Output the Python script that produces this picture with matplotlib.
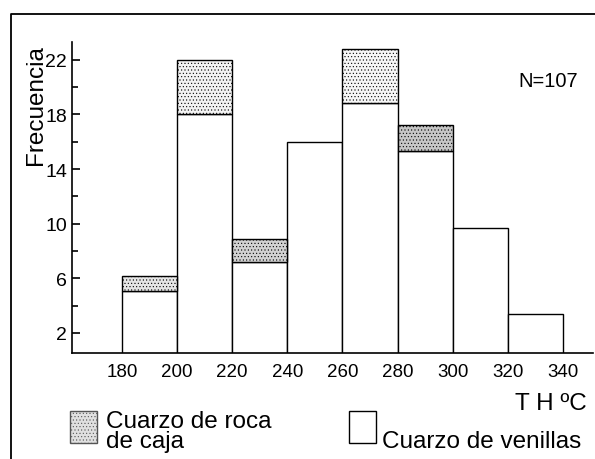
import numpy as np
import matplotlib
matplotlib.use('Agg')
import matplotlib.pyplot as plt
from matplotlib.patches import Rectangle
from matplotlib.lines import Line2D

# class edges (lower limit of each 20 degree class) and frequencies
bins = [180, 200, 220, 240, 260, 280, 300, 320]
venillas = [5.1, 18.0, 7.2, 16.0, 18.8, 15.3, 9.7, 3.4]
roca = [1.1, 4.0, 1.7, 0.0, 4.0, 1.9, 0.0, 0.0]

xticks = [180, 200, 220, 240, 260, 280, 300, 320, 340]
yticks = [2, 6, 10, 14, 18, 22]
yminor = [4, 8, 12, 16, 20]

# the scanned stipple is uneven: light on some bars, darker on others
stipple = ['#e6e6e6', '#f3f3f3', '#d2d2d2', '#ffffff', '#f6f6f6', '#c6c6c6', '#ffffff', '#ffffff']

W, H = 595, 460
plt.rcParams['font.family'] = ['Liberation Sans', 'DejaVu Sans']
plt.rcParams['hatch.color'] = '#a8a8a8'
plt.rcParams['hatch.linewidth'] = 0.4

fig = plt.figure(figsize=(W / 100, H / 100), dpi=100)
# axes box in pixels: left 72, right 593, top 43, bottom 354
ax = fig.add_axes([72 / W, 1 - 354 / H, (593 - 72) / W, (354 - 43) / H])

ax.bar(bins, venillas, width=20, align='edge', facecolor='white',
       edgecolor='black', linewidth=1.0, zorder=2)
# roca de caja sits on top of the venillas bars
for b, v, r, c in zip(bins, venillas, roca, stipple):
    if r > 0:
        ax.bar(b, r, width=20, bottom=v, align='edge', facecolor=c,
               edgecolor='black', linewidth=1.0, hatch='.....', zorder=2)

ax.set_xlim(161.9, 350.9)
ax.set_ylim(0.53, 23.3)

for s in ['top', 'right']:
    ax.spines[s].set_visible(False)
for s in ['left', 'bottom']:
    ax.spines[s].set_linewidth(1.2)

ax.set_xticks(xticks)
ax.set_xticklabels([str(t) for t in xticks])
ax.tick_params(axis='x', length=0, pad=7, labelsize=13.5)
ax.set_yticks(yticks)
ax.set_yticks(yminor, minor=True)
ax.tick_params(axis='y', which='major', direction='in', length=5.8,
               width=1.2, pad=3.6, labelsize=14)
ax.tick_params(axis='y', which='minor', direction='in', length=4, width=1.2)

fig.text(36 / W, 1 - 105 / H, 'Frecuencia', rotation=90, ha='center',
         va='center', fontsize=17.5)
fig.text(548 / W, 1 - 87 / H, 'N=107', ha='center', va='baseline',
         fontsize=14.5)
fig.text(587 / W, 1 - 410 / H, 'T H ºC', ha='right', va='baseline',
         fontsize=17.5)

# legend, drawn by hand like the original
fig.add_artist(Rectangle((70 / W, 1 - 444 / H), 27 / W, 32 / H,
                         transform=fig.transFigure, facecolor='#e0e0e0',
                         edgecolor='#555555', linewidth=1.0, hatch='.....'))
fig.text(106 / W, 1 - 428 / H, 'Cuarzo de roca', va='baseline', fontsize=17.5)
fig.text(106 / W, 1 - 448 / H, 'de caja', va='baseline', fontsize=17.5)
fig.add_artist(Rectangle((349 / W, 1 - 444 / H), 27 / W, 32 / H,
                         transform=fig.transFigure, facecolor='white',
                         edgecolor='black', linewidth=1.0))
fig.text(382 / W, 1 - 448 / H, 'Cuarzo de venillas', va='baseline',
         fontsize=17.5)

# outer frame (only top and left survive in the scan)
fig.add_artist(Line2D([10.5 / W, 10.5 / W, 1], [0, 1 - 15 / H, 1 - 15 / H],
                      transform=fig.transFigure, color='black', linewidth=1.3))

fig.savefig('out.png', dpi=100)
